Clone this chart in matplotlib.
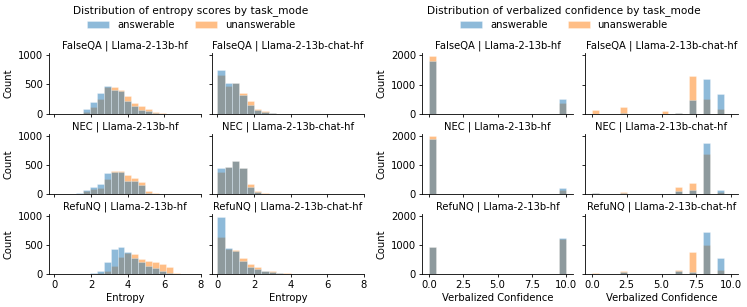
import numpy as np
import matplotlib.pyplot as plt
from matplotlib.patches import Patch

# ---- data ----
tasks = ['FalseQA', 'NEC', 'RefuNQ']
models = ['Llama-2-13b-hf', 'Llama-2-13b-chat-hf']
hue_levels = ['answerable', 'unanswerable']

# entropy histograms: bin start / width per model column, counts per bin
ent_base_start, ent_base_width = 1.17, 0.38
ent_chat_start, ent_chat_width = 0.0, 0.40

ent_falseqa_base_ans = [5, 80, 200, 355, 470, 400, 390, 215, 140, 75, 45, 15, 5, 0]
ent_falseqa_base_unans = [3, 30, 110, 260, 450, 460, 410, 300, 185, 140, 90, 35, 10, 3]
ent_nec_base_ans = [15, 75, 125, 175, 355, 370, 375, 230, 225, 160, 15, 5, 3, 0]
ent_nec_base_unans = [5, 45, 90, 100, 260, 395, 395, 330, 280, 200, 45, 10, 5, 0]
ent_refunq_base_ans = [2, 5, 15, 55, 200, 430, 460, 375, 280, 200, 145, 100, 55, 15, 3, 0]
ent_refunq_base_unans = [0, 3, 5, 15, 45, 140, 300, 360, 340, 260, 215, 210, 170, 125, 15, 0]

ent_falseqa_chat_ans = [745, 520, 520, 325, 155, 60, 35, 10, 5, 3, 2, 1]
ent_falseqa_chat_unans = [660, 480, 515, 350, 225, 85, 45, 12, 6, 3, 2, 1]
ent_nec_chat_ans = [450, 470, 570, 450, 120, 30, 8, 3, 1]
ent_nec_chat_unans = [370, 460, 565, 445, 170, 55, 12, 4, 1]
ent_refunq_chat_ans = [980, 440, 395, 230, 120, 85, 45, 35, 15, 8, 5, 3, 2]
ent_refunq_chat_unans = [630, 430, 420, 280, 170, 115, 60, 45, 20, 10, 6, 4, 2]

# verbalized confidence: counts per integer score 0..10
scores = list(range(11))
conf_falseqa_base_ans = [1810, 0, 0, 0, 0, 0, 0, 0, 0, 0, 510]
conf_falseqa_base_unans = [1970, 0, 0, 0, 0, 0, 0, 0, 0, 0, 390]
conf_nec_base_ans = [1900, 0, 0, 0, 0, 0, 0, 0, 0, 0, 200]
conf_nec_base_unans = [2000, 0, 0, 0, 0, 0, 0, 0, 0, 0, 130]
conf_refunq_base_ans = [920, 0, 0, 0, 0, 0, 0, 0, 0, 0, 1250]
conf_refunq_base_unans = [940, 0, 0, 0, 0, 0, 0, 0, 0, 0, 1230]

conf_falseqa_chat_ans = [10, 0, 40, 0, 0, 0, 30, 480, 1200, 680, 0]
conf_falseqa_chat_unans = [130, 0, 250, 0, 0, 90, 30, 1290, 510, 170, 0]
conf_nec_chat_ans = [25, 0, 30, 0, 0, 0, 90, 140, 1770, 150, 0]
conf_nec_chat_unans = [25, 0, 70, 0, 0, 0, 230, 390, 1380, 60, 0]
conf_refunq_chat_ans = [5, 0, 70, 0, 0, 5, 110, 80, 1450, 550, 0]
conf_refunq_chat_unans = [45, 0, 115, 0, 0, 10, 140, 760, 1010, 140, 0]

entropy = {
    ('FalseQA', 0): (ent_falseqa_base_ans, ent_falseqa_base_unans),
    ('FalseQA', 1): (ent_falseqa_chat_ans, ent_falseqa_chat_unans),
    ('NEC', 0): (ent_nec_base_ans, ent_nec_base_unans),
    ('NEC', 1): (ent_nec_chat_ans, ent_nec_chat_unans),
    ('RefuNQ', 0): (ent_refunq_base_ans, ent_refunq_base_unans),
    ('RefuNQ', 1): (ent_refunq_chat_ans, ent_refunq_chat_unans),
}
confidence = {
    ('FalseQA', 0): (conf_falseqa_base_ans, conf_falseqa_base_unans),
    ('FalseQA', 1): (conf_falseqa_chat_ans, conf_falseqa_chat_unans),
    ('NEC', 0): (conf_nec_base_ans, conf_nec_base_unans),
    ('NEC', 1): (conf_nec_chat_ans, conf_nec_chat_unans),
    ('RefuNQ', 0): (conf_refunq_base_ans, conf_refunq_base_unans),
    ('RefuNQ', 1): (conf_refunq_chat_ans, conf_refunq_chat_unans),
}

colors = ['#1f77b4', '#ff7f0e']
FS = 7.2
W, H = 747, 307

plt.rcParams.update({
    'font.size': FS,
    'axes.linewidth': 0.6,
    'xtick.major.size': 2.4, 'ytick.major.size': 2.4,
    'xtick.major.width': 0.6, 'ytick.major.width': 0.6,
    'xtick.major.pad': 2.0, 'ytick.major.pad': 2.0,
    'axes.titlesize': FS, 'axes.labelsize': FS,
    'xtick.labelsize': FS, 'ytick.labelsize': FS,
})

fig = plt.figure(figsize=(W / 100, H / 100), dpi=100)


def px_axes(x0, x1, y0, y1):
    return fig.add_axes([x0 / W, 1 - y1 / H, (x1 - x0) / W, (y1 - y0) / H])


rows_px = [(53, 114), (134, 194), (214, 274)]
left_cols = [(49, 201), (212, 364)]
right_cols = [(422, 573), (585, 738)]


def draw_hist(ax, edges, centers, ans, unans):
    # unanswerable first, answerable layered on top (as seaborn does)
    for vals, c in [(unans, colors[1]), (ans, colors[0])]:
        ax.hist(centers, bins=edges, weights=vals, color=c, alpha=0.5,
                edgecolor='white', linewidth=0.4)


def style(ax, r, c, title):
    ax.set_title(title, pad=3)
    for s in ['top', 'right']:
        ax.spines[s].set_visible(False)
    if r < 2:
        ax.tick_params(labelbottom=False)
    if c > 0:
        ax.tick_params(labelleft=False)
    else:
        ax.set_ylabel('Count', labelpad=3)


for r, task in enumerate(tasks):
    for c, model in enumerate(models):
        # entropy
        ax = px_axes(*left_cols[c], *rows_px[r])
        ans, unans = entropy[(task, c)]
        start, width = (ent_base_start, ent_base_width) if c == 0 else (ent_chat_start, ent_chat_width)
        edges = start + width * np.arange(len(ans) + 1)
        centers = edges[:-1] + width / 2
        draw_hist(ax, edges, centers, ans, unans)
        ax.set_xlim(-0.3, 8.02)
        ax.set_ylim(0, 1030)
        ax.set_xticks([0, 2, 4, 6, 8])
        ax.set_yticks([0, 500, 1000])
        style(ax, r, c, f'{task} | {model}')
        if r == 2:
            ax.set_xlabel('Entropy', labelpad=2)

        # verbalized confidence
        ax = px_axes(*right_cols[c], *rows_px[r])
        ans, unans = confidence[(task, c)]
        edges = np.linspace(0, 10, 21)
        draw_hist(ax, edges, np.array(scores, dtype=float), ans, unans)
        ax.set_xlim(-0.5, 10.5)
        ax.set_ylim(0, 2080)
        ax.set_xticks([0, 2.5, 5, 7.5, 10])
        ax.set_yticks([0, 1000, 2000])
        style(ax, r, c, f'{task} | {model}')
        if r == 2:
            ax.set_xlabel('Verbalized Confidence', labelpad=2)

fig.text(191 / W, 1 - 11 / H, 'Distribution of entropy scores by task_mode',
         ha='center', va='center', fontsize=FS + 0.4)
fig.text(564 / W, 1 - 11 / H, 'Distribution of verbalized confidence by task_mode',
         ha='center', va='center', fontsize=FS + 0.4)

handles = [Patch(facecolor=colors[i], alpha=0.5, edgecolor='white', linewidth=0.4)
           for i in range(2)]
for cx in (191, 564):
    fig.legend(handles, hue_levels, loc='center', bbox_to_anchor=(cx / W, 1 - 25 / H),
               ncol=2, frameon=False, fontsize=FS, handlelength=2.2,
               handleheight=0.8, columnspacing=2.0, handletextpad=0.8)

fig.savefig('out.png', dpi=100)
